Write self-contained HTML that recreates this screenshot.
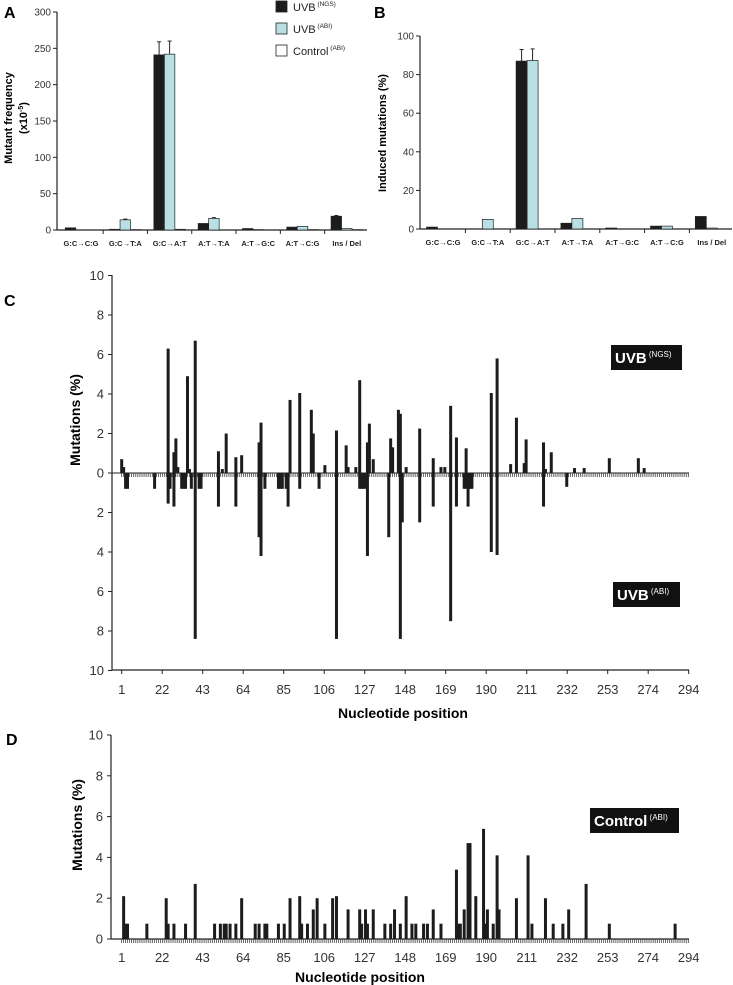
<!DOCTYPE html>
<html><head><meta charset="utf-8">
<style>
html,body{margin:0;padding:0;background:#fff;}
svg{display:block;font-family:"Liberation Sans",Arial,sans-serif;}
</style></head>
<body>
<svg id="fig" width="733" height="985" viewBox="0 0 733 985" xmlns="http://www.w3.org/2000/svg"></svg>
<script>
// ---------- Panel A / B data ----------
const categories = ["G:C\u2192C:G","G:C\u2192T:A","G:C\u2192A:T","A:T\u2192T:A","A:T\u2192G:C","A:T\u2192C:G","Ins / Del"];
const aNGS = [3,1,241,9,2,4,19];
const aABI = [0,14,242,16,0.5,5,2];
const aCtrl = [0,0.5,1,0,0,0.5,0.5];
const aErrNGS = [0.5,0.3,18,0.5,0.3,0.5,1];
const aErrABI = [0,1,18,1,0.2,0.5,0.3];
const aTicks = [0,50,100,150,200,250,300];
const bNGS = [1,0,87,3,0.5,1.5,6.5];
const bABI = [0,5,87.3,5.5,0,1.5,0.5];
const bErrNGS = [0.2,0,6,0.2,0.1,0.2,0.4];
const bErrABI = [0,0.4,6,0.4,0,0.2,0];
const bTicks = [0,20,40,60,80,100];
// ---------- Panel C data ----------
const cPosNGS = [1,2,25,28,29,30,35,36,39,51,53,55,60,63,72,73,88,93,99,100,106,112,117,118,122,124,128,129,131,140,141,144,145,148,155,162,166,168,171,174,179,192,195,202,205,209,210,219,220,223,235,240,253,268,271];
const cValNGS = [0.7,0.3,6.3,1.05,1.75,0.3,4.9,0.2,6.7,1.1,0.2,2.0,0.8,0.9,1.55,2.55,3.7,4.05,3.2,2.0,0.4,2.15,1.4,0.3,0.3,4.7,1.55,2.5,0.7,1.75,1.3,3.2,3.0,0.3,2.25,0.75,0.3,0.3,3.4,1.8,1.25,4.05,5.8,0.45,2.8,0.5,1.7,1.55,0.2,1.05,0.25,0.25,0.75,0.75,0.25];
const cPosABI = [3,4,18,25,26,28,32,33,34,37,39,41,42,51,60,72,73,75,82,83,84,86,87,93,103,112,124,125,126,127,128,139,145,146,155,162,171,174,178,179,180,181,182,192,195,219,231];
const cValABI = [0.8,0.8,0.8,1.55,0.8,1.7,0.8,0.8,0.8,0.8,8.4,0.8,0.8,1.7,1.7,3.25,4.2,0.8,0.8,0.8,0.8,0.8,1.7,0.8,0.8,8.4,0.8,0.8,0.8,0.8,4.2,3.25,8.4,2.5,2.5,1.7,7.5,1.7,0.8,0.8,1.7,0.8,0.8,4.0,4.15,1.7,0.7];
const posTicks = [1,22,43,64,85,106,127,148,169,190,211,232,253,274,294];
const cYTicks = [0,2,4,6,8,10];
// ---------- Panel D data ----------
const dPos = [2,3,4,14,24,25,28,34,39,49,52,54,55,57,60,63,70,72,75,76,82,85,88,93,94,97,100,102,106,110,112,118,124,125,127,128,131,137,140,142,145,148,151,153,157,159,162,166,174,175,176,178,180,181,184,188,189,190,193,195,196,205,211,213,220,224,229,232,241,253,287];
const dVal = [2.1,0.75,0.75,0.75,2.0,0.75,0.75,0.75,2.7,0.75,0.75,0.75,0.75,0.75,0.75,2.0,0.75,0.75,0.75,0.75,0.75,0.75,2.0,2.1,0.75,0.75,1.45,2.0,0.75,2.0,2.1,1.45,1.45,0.75,1.45,0.75,1.45,0.75,0.75,1.45,0.75,2.1,0.75,0.75,0.75,0.75,1.45,0.75,3.4,0.75,0.75,1.45,4.7,4.7,2.1,5.4,0.75,1.45,0.75,4.1,1.45,2.0,4.1,0.75,2.0,0.75,0.75,1.45,2.7,0.75,0.75];

const NS="http://www.w3.org/2000/svg";
const svg=document.getElementById('fig');
function el(tag,attrs,parent){const e=document.createElementNS(NS,tag);for(const k in attrs)e.setAttribute(k,attrs[k]);(parent||svg).appendChild(e);return e;}
function txt(s,attrs,parent){const e=el('text',attrs,parent);e.textContent=s;return e;}

// ===== Bar panels A and B =====
function barPanel(cfg){
  const g=el('g',{});
  
  
  const y=v=>cfg.y0-(v/cfg.ymax)*(cfg.y0-cfg.ytop);
  const cx=i=>cfg.c0+cfg.step*i;
  const ya=el('line',{x1:cfg.ax,y1:cfg.ytop,x2:cfg.ax,y2:cfg.y0,stroke:'#222','stroke-width':1.2},g);
  
  const xa=el('line',{x1:cfg.ax,y1:cfg.y0,x2:cfg.xend,y2:cfg.y0,stroke:'#222','stroke-width':1.2},g);
  
  cfg.ticks.forEach(t=>{
    el('line',{x1:cfg.ax-4,y1:y(t),x2:cfg.ax,y2:y(t),stroke:'#222'},g);
    const l=txt(String(t),{x:cfg.ax-6,y:y(t)+3.5,'font-size':10,'text-anchor':'end',fill:'#333'},g);
    
  });
  categories.forEach((c,i)=>{
    if(i>0){el('line',{x1:cx(i)-cfg.step/2,y1:cfg.y0,x2:cx(i)-cfg.step/2,y2:cfg.y0+4,stroke:'#222'},g);}
    const l=txt(c,{x:cx(i),y:cfg.y0+16,'font-size':7.5,'font-weight':'bold','text-anchor':'middle',fill:'#222'},g);
    
    const w=cfg.bw;
    const series=[[cfg.ngs,'#1c1c1c',cfg.errN,-1.5],[cfg.abi,'#b8e0e4',cfg.errA,-0.5]];
    if(cfg.ctrl) series.push([cfg.ctrl,'#ffffff',null,0.5]);
    series.forEach(([arr,col,err,off])=>{
      const v=arr[i]; const x=cx(i)+off*w;
      if(v>0){
        const r=el('rect',{x:x,y:y(v),width:w,height:cfg.y0-y(v),fill:col,stroke:'#222','stroke-width':0.7},g);
        
      }
      if(err&&err[i]>0.5){
        const xm=x+w/2;
        el('line',{x1:xm,y1:y(v),x2:xm,y2:y(v+err[i]),stroke:'#222'},g);
        el('line',{x1:xm-2,y1:y(v+err[i]),x2:xm+2,y2:y(v+err[i]),stroke:'#222'},g);
      }
    });
  });
  return g;
}
barPanel({name:'panel-a-chart',ax:57,ytop:12,y0:230,ymax:300,xend:367,c0:81,step:44.3,bw:10.5,ticks:aTicks,ngs:aNGS,abi:aABI,ctrl:aCtrl,errN:aErrNGS,errA:aErrABI});
barPanel({name:'panel-b-chart',ax:420,ytop:36,y0:229,ymax:100,xend:732,c0:443,step:44.8,bw:11,ticks:bTicks,ngs:bNGS,abi:bABI,ctrl:null,errN:bErrNGS,errA:bErrABI});

let t;
t=txt('A',{x:4,y:18,'font-size':16,'font-weight':'bold'});
t=txt('B',{x:374,y:18,'font-size':16,'font-weight':'bold'});
t=txt('Mutant frequency',{x:0,y:0,'font-size':11,'font-weight':'bold','text-anchor':'middle',transform:'translate(12,118) rotate(-90)'});
t=el('text',{x:0,y:0,'font-size':11,'font-weight':'bold','text-anchor':'middle',transform:'translate(27,118) rotate(-90)'});t.innerHTML='(x10<tspan font-size="7" dy="-4">-5</tspan><tspan dy="4">)</tspan>';
t=txt('Induced mutations (%)',{x:0,y:0,'font-size':11,'font-weight':'bold','text-anchor':'middle',transform:'translate(386,133) rotate(-90)'});

const leg=el('g',{});
[['#1c1c1c','UVB','(NGS)',7],['#b8e0e4','UVB','(ABI)',29],['#ffffff','Control','(ABI)',51]].forEach(([c,a,b,yy])=>{
  const s=el('rect',{x:276,y:yy-6,width:11,height:11,fill:c,stroke:'#222','stroke-width':0.8},leg);
  
  const tt=el('text',{x:293,y:yy+4,'font-size':11,fill:'#222'},leg);
  tt.innerHTML=a+'<tspan font-size="6.5" dy="-5"> '+b+'</tspan>';
  
});

// ===== Positional panels =====
const xPos=p=>121.7+(p-1)*1.935;
function posAxisTicks(g,y0){
  for(let p=1;p<=294;p++){
    el('line',{x1:xPos(p),y1:y0,x2:xPos(p),y2:y0+4,stroke:'#333','stroke-width':0.7},g);
  }
}
const gc=el('g',{});
const cZero=473, cS=19.75;
const cUp=v=>cZero-v*cS, cDn=v=>cZero+v*cS;
el('line',{x1:112,y1:275,x2:112,y2:670,stroke:'#222','stroke-width':1.2},gc);
el('line',{x1:112,y1:670,x2:689,y2:670,stroke:'#222','stroke-width':1.2},gc);
el('line',{x1:112,y1:cZero,x2:689,y2:cZero,stroke:'#222','stroke-width':1},gc);
posAxisTicks(gc,cZero);
cYTicks.forEach(v=>{
  [cUp(v),cDn(v)].forEach((yy,k)=>{
    if(k===1&&v===0)return;
    el('line',{x1:108,y1:yy,x2:112,y2:yy,stroke:'#222'},gc);
    const l=txt(String(v),{x:104,y:yy+4.5,'font-size':13,'text-anchor':'end',fill:'#333'},gc);
    
  });
});
posTicks.forEach((p,i)=>{
  const x=121.7+i*40.5;
  el('line',{x1:x,y1:670,x2:x,y2:674,stroke:'#222'},gc);
  const l=txt(String(p),{x:x,y:694,'font-size':13,'text-anchor':'middle',fill:'#333'},gc);
  
});
cPosNGS.forEach((p,i)=>{
  const r=el('rect',{x:xPos(p)-1.5,y:cUp(cValNGS[i]),width:3,height:cValNGS[i]*cS,fill:'#1c1c1c'},gc);
  
});
cPosABI.forEach((p,i)=>{
  const r=el('rect',{x:xPos(p)-1.5,y:cZero,width:3,height:cValABI[i]*cS,fill:'#1c1c1c'},gc);
  
});
t=txt('C',{x:4,y:306,'font-size':16,'font-weight':'bold'});
t=txt('Mutations (%)',{x:0,y:0,'font-size':14,'font-weight':'bold','text-anchor':'middle',transform:'translate(80,420) rotate(-90)'});
t=txt('Nucleotide position',{x:403,y:718,'font-size':14,'font-weight':'bold','text-anchor':'middle'});
function tag(x,y,w,h,a,b,name){
  const g=el('g',{});
  el('rect',{x:x,y:y,width:w,height:h,fill:'#111'},g);
  const tt=el('text',{x:x+4,y:y+h-7,'font-size':15,'font-weight':'bold',fill:'#fff'},g);
  tt.innerHTML=a+'<tspan font-size="8" font-weight="normal" dy="-6"> '+b+'</tspan>';
}
tag(611,345,71,25,'UVB','(NGS)','uvb-ngs-tag');
tag(613,582,67,25,'UVB','(ABI)','uvb-abi-tag');

const gd=el('g',{});
const dZero=939, dS=20.4;
const dY=v=>dZero-v*dS;
el('line',{x1:111,y1:735,x2:111,y2:dZero,stroke:'#222','stroke-width':1.2},gd);
el('line',{x1:111,y1:dZero,x2:689,y2:dZero,stroke:'#222','stroke-width':1.2},gd);
posAxisTicks(gd,dZero);
cYTicks.forEach(v=>{
  el('line',{x1:107,y1:dY(v),x2:111,y2:dY(v),stroke:'#222'},gd);
  const l=txt(String(v),{x:103,y:dY(v)+4.5,'font-size':13,'text-anchor':'end',fill:'#333'},gd);
  
});
posTicks.forEach((p,i)=>{
  const l=txt(String(p),{x:121.7+i*40.5,y:962,'font-size':13,'text-anchor':'middle',fill:'#333'},gd);
  
});
dPos.forEach((p,i)=>{
  const r=el('rect',{x:xPos(p)-1.5,y:dY(dVal[i]),width:3,height:dVal[i]*dS,fill:'#1c1c1c'},gd);
  
});
t=txt('D',{x:6,y:745,'font-size':16,'font-weight':'bold'});
t=txt('Mutations (%)',{x:0,y:0,'font-size':14,'font-weight':'bold','text-anchor':'middle',transform:'translate(82,825) rotate(-90)'});
t=txt('Nucleotide position',{x:360,y:982,'font-size':14,'font-weight':'bold','text-anchor':'middle'});
tag(590,808,89,25,'Control','(ABI)','control-abi-tag');
</script>
</body></html>
